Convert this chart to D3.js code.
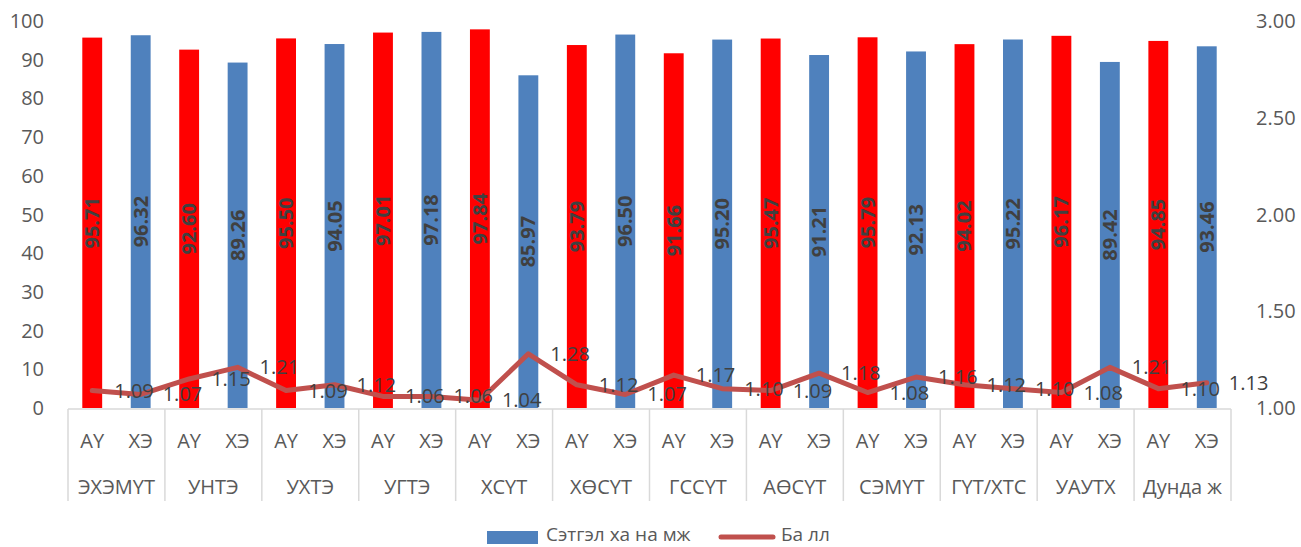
<!DOCTYPE html>
<html>
<head>
<meta charset="utf-8">
<script src="https://cdn.jsdelivr.net/npm/d3@7"></script>
<style>
  html, body { margin: 0; padding: 0; background: #fff; }
  svg { display: block; font-family: "Open Sans", "Noto Sans", sans-serif; }
</style>
</head>
<body>
<svg id="chart" width="1301" height="547"></svg>
<script>
// Organisations (outer axis level)
const groups = ["ЭХЭМҮТ", "УНТЭ", "УХТЭ", "УГТЭ", "ХСҮТ", "ХӨСҮТ", "ГССҮТ", "АӨСҮТ", "СЭМҮТ", "ГҮТ/ХТС", "УАУТХ", "Дунда ж"];
// Respondent type (inner axis level)
const subLabels = ["АҮ", "ХЭ"];
// Satisfaction (%) per organisation: [АҮ, ХЭ]
const satisfactionAU = [95.71, 92.60, 95.50, 97.01, 97.84, 93.79, 91.66, 95.47, 95.79, 94.02, 96.17, 94.85];
const satisfactionHE = [96.32, 89.26, 94.05, 97.18, 85.97, 96.50, 95.20, 91.21, 92.13, 95.22, 89.42, 93.46];
// Score per organisation: [АҮ, ХЭ]
const scoreAU = [1.09, 1.15, 1.09, 1.06, 1.04, 1.12, 1.17, 1.09, 1.08, 1.12, 1.08, 1.10];
const scoreHE = [1.07, 1.21, 1.12, 1.06, 1.28, 1.07, 1.10, 1.18, 1.16, 1.10, 1.21, 1.13];
// Axis ticks
const leftTicks = [0, 10, 20, 30, 40, 50, 60, 70, 80, 90, 100];
const rightTicks = [1.00, 1.50, 2.00, 2.50, 3.00];
const legendLabels = ["Сэтгэл  ха на мж", "Ба лл"];

const colors = { "АҮ": "#FF0000", "ХЭ": "#4F81BD", line: "#C0504D", text: "#595959", label: "#404040", grid: "#D9D9D9" };

// Flattened rows: one per bar
const rows = [];
groups.forEach((g, i) => {
  rows.push({ key: g + "|" + subLabels[0], group: g, sub: subLabels[0], value: satisfactionAU[i], score: scoreAU[i] });
  rows.push({ key: g + "|" + subLabels[1], group: g, sub: subLabels[1], value: satisfactionHE[i], score: scoreHE[i] });
});

const svg = d3.select("#chart");
const plotLeft = 68, plotRight = 1231, plotTop = 21, plotBottom = 408;

const x = d3.scaleBand().domain(rows.map(d => d.key)).range([plotLeft, plotRight]).paddingInner(0).paddingOuter(0);
const step = x.bandwidth();
const barW = step * 0.41;
const cx = k => x(k) + step / 2;

const yL = d3.scaleLinear().domain([0, 100]).range([plotBottom, plotTop]);
const yR = d3.scaleLinear().domain([1, 3]).range([plotBottom, plotTop]);

// Left axis labels
svg.append("g").selectAll("text").data(leftTicks).join("text")
  .attr("x", 44).attr("y", d => yL(d)).attr("dy", "0.35em")
  .attr("text-anchor", "end").attr("font-size", 20).attr("fill", colors.text)
  .text(d => d);

// Right axis labels
svg.append("g").selectAll("text").data(rightTicks).join("text")
  .attr("x", 1256).attr("y", d => yR(d)).attr("dy", "0.35em")
  .attr("text-anchor", "start").attr("font-size", 20).attr("fill", colors.text)
  .text(d => d3.format(".2f")(d));

// Bars
svg.append("g").selectAll("rect").data(rows).join("rect")
  .attr("x", d => cx(d.key) - barW / 2)
  .attr("y", d => yL(d.value))
  .attr("width", barW)
  .attr("height", d => yL(0) - yL(d.value))
  .attr("fill", d => colors[d.sub]);

// Bar value labels, rotated in the middle of each bar
svg.append("g").selectAll("text").data(rows).join("text")
  .attr("transform", d => `translate(${cx(d.key)},${(yL(d.value) + yL(0)) / 2}) rotate(-90)`)
  .attr("text-anchor", "middle").attr("dy", "0.35em")
  .attr("font-size", 20).attr("font-weight", "bold").attr("fill", colors.label)
  .text(d => d3.format(".2f")(d.value));

// Category axis: baseline, dividers, labels
const axis = svg.append("g");
axis.append("line").attr("x1", plotLeft).attr("x2", plotRight).attr("y1", plotBottom + 1).attr("y2", plotBottom + 1)
  .attr("stroke", colors.grid).attr("stroke-width", 1.5);
const dividers = groups.map(g => x(g + "|" + subLabels[0])).concat([plotRight]);
axis.selectAll("line.div").data(dividers).join("line").attr("class", "div")
  .attr("x1", d => d).attr("x2", d => d).attr("y1", plotBottom + 1).attr("y2", 501)
  .attr("stroke", colors.grid).attr("stroke-width", 1.5);
axis.selectAll("text.sub").data(rows).join("text").attr("class", "sub")
  .attr("x", d => cx(d.key)).attr("y", 441).attr("dy", "0.35em")
  .attr("text-anchor", "middle").attr("font-size", 20).attr("fill", colors.text)
  .text(d => d.sub);
axis.selectAll("text.grp").data(groups).join("text").attr("class", "grp")
  .attr("x", g => x(g + "|" + subLabels[0]) + step).attr("y", 487).attr("dy", "0.35em")
  .attr("text-anchor", "middle").attr("font-size", 20).attr("fill", colors.text)
  .text(g => g);

// Score line
const line = d3.line().x(d => cx(d.key)).y(d => yR(d.score));
svg.append("path").datum(rows).attr("d", line)
  .attr("fill", "none").attr("stroke", colors.line).attr("stroke-width", 5)
  .attr("stroke-linejoin", "round").attr("stroke-linecap", "round");

// Score labels, placed right of each point
svg.append("g").selectAll("text").data(rows).join("text")
  .attr("x", d => cx(d.key) + 22).attr("y", d => yR(d.score)).attr("dy", "0.35em")
  .attr("text-anchor", "start").attr("font-size", 20).attr("fill", colors.label)
  .text(d => d3.format(".2f")(d.score));

// Legend
const lg = svg.append("g");
lg.append("rect").attr("x", 487).attr("y", 531).attr("width", 51).attr("height", 13).attr("fill", colors["ХЭ"]);
lg.append("text").attr("x", 546).attr("y", 534).attr("dy", "0.35em").attr("font-size", 19).attr("fill", colors.text).text(legendLabels[0]);
lg.append("line").attr("x1", 721).attr("x2", 773).attr("y1", 537).attr("y2", 537)
  .attr("stroke", colors.line).attr("stroke-width", 5).attr("stroke-linecap", "round");
lg.append("text").attr("x", 781).attr("y", 534).attr("dy", "0.35em").attr("font-size", 19).attr("fill", colors.text).text(legendLabels[1]);
</script>
</body>
</html>
